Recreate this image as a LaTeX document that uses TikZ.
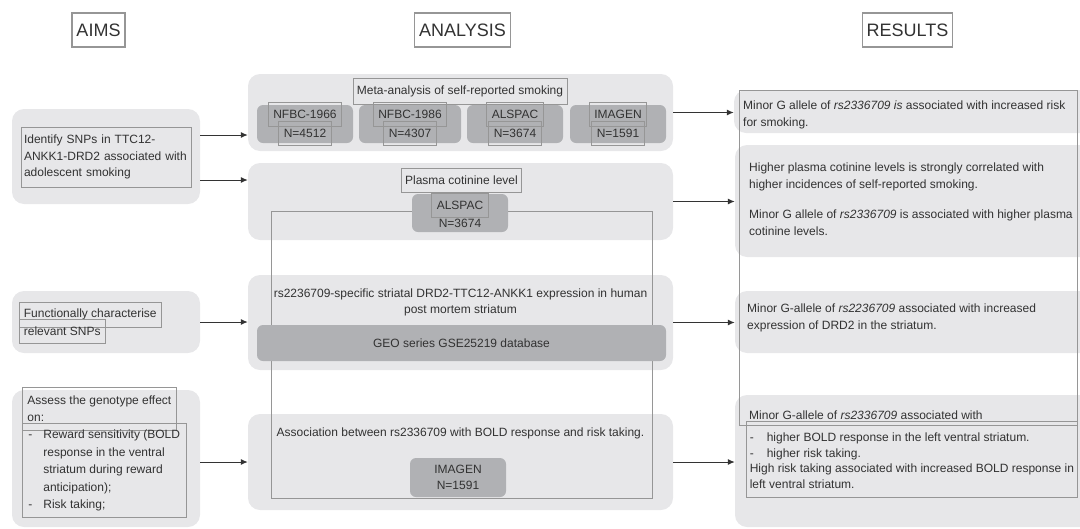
\documentclass[tikz,border=0pt]{standalone}
\usepackage{fontspec}
\setmainfont{Liberation Sans}
\usetikzlibrary{arrows.meta}
\definecolor{grisclair}{RGB}{231,231,233}
\definecolor{grisfonce}{RGB}{176,177,180}
\definecolor{griscadre}{RGB}{150,150,150}
\definecolor{encre}{RGB}{50,50,50}

\begin{document}
\begin{tikzpicture}[x=1pt, y=-1pt, font=\fontsize{12}{16.5}\selectfont, text=encre]
        % Styles
        \tikzstyle{boite}=[rectangle, rounded corners=12pt, fill=grisclair, inner sep=0pt]
        \tikzstyle{sousboite}=[rectangle, rounded corners=6pt, fill=grisfonce, inner sep=0pt]
        \tikzstyle{cadre}=[draw=griscadre, line width=0.8pt]
        \tikzstyle{entete}=[cadre, line width=1.2pt, font=\fontsize{18}{20}\selectfont, inner xsep=4.5pt, minimum height=34pt]
        \tikzstyle{etiquette}=[cadre, inner xsep=5pt, inner ysep=0pt, minimum height=24pt]
        \tikzstyle{bloc}=[inner sep=0pt, align=left, anchor=north west]
        \tikzstyle{fleche}=[-{Latex[length=7pt,width=6pt]}, line width=1pt, draw=black!80]

        \useasboundingbox (0,0) rectangle (1080,528);
        \clip (0,0) rectangle (1080,528);

        % En-tetes
        \node[entete] (aims) at (98.5,30) {AIMS};
        \node[entete] (analysis) at (462.5,30) {ANALYSIS};
        \node[entete] (results) at (907.5,30) {RESULTS};

        % Fonds
        \node[boite, minimum width=188pt, minimum height=95pt] (objA) at (106,156.5) {};
        \node[boite, minimum width=188pt, minimum height=62pt] (objB) at (106,322) {};
        \node[boite, minimum width=188pt, minimum height=137pt] (objC) at (106,458.5) {};
        \node[boite, minimum width=425pt, minimum height=77pt] (meta) at (460.5,112.5) {};
        \node[boite, minimum width=425pt, minimum height=77pt] (cotinine) at (460.5,201.5) {};
        \node[boite, minimum width=425pt, minimum height=95pt] (expression) at (460.5,322.5) {};
        \node[boite, minimum width=425pt, minimum height=96pt] (bold) at (460.5,462) {};
        \node[boite, minimum width=361pt, minimum height=43pt] (resA) at (914.5,111.5) {};
        \node[boite, minimum width=360pt, minimum height=112pt] (resB) at (915,201) {};
        \node[boite, minimum width=360pt, minimum height=62pt] (resC) at (915,322) {};
        \node[boite, minimum width=360pt, minimum height=132pt] (resD) at (915,461) {};

        % Grands cadres
        \draw[cadre] (271,211) rectangle (652,498);
        \draw[cadre] (739,90) rectangle (1077,425);

        % Objectifs
        \node[cadre, align=left, inner xsep=3pt, minimum height=60pt, text width=164pt] (objAtxt) at (106,157)
            {Identify SNPs in TTC12-\\ANKK1-DRD2 associated with\\adolescent smoking};
        \node[cadre, anchor=west, inner xsep=4.5pt, inner ysep=0pt, minimum height=25pt] (objBa) at (19,314.5) {Functionally characterise};
        \node[cadre, anchor=west, inner xsep=4.5pt, inner ysep=0pt, minimum height=24pt] (objBb) at (19,331) {relevant SNPs};
        \node[cadre, anchor=north west, align=left, inner xsep=3pt, minimum width=154pt, minimum height=43pt] (objCa) at (22,387)
            {Assess the genotype effect\\on:\hspace*{108pt}};
        \node[cadre, anchor=north west, inner xsep=6pt, minimum width=162pt, minimum height=94pt] (objCb) at (22,423)
            {\renewcommand\arraystretch{1.06}\begin{tabular}{@{}l@{\hspace{11pt}}l@{}}
             -& Reward sensitivity (BOLD\\ & response in the ventral\\ & striatum during reward\\ & anticipation);\\ -& Risk taking;\end{tabular}};

        % Meta-analyse
        \node[cadre, inner xsep=4pt, inner ysep=0pt, minimum height=26pt] (metatitre) at (460,91) {Meta-analysis of self-reported smoking};
        \foreach \x/\w/\nom/\n [count=\i] in {305/96/NFBC-1966/4512, 410/102/NFBC-1986/4307, 515/96/ALSPAC/3674, 618/96/IMAGEN/1591} {
            \node[sousboite, minimum width=\w pt, minimum height=38pt] (cohorte\i) at (\x,124) {};
            \node[etiquette] (cohorte\i nom) at (\x,114.5) {\nom};
            \node[etiquette] (cohorte\i n) at (\x,133) {N=\n};
        }

        % Cotinine
        \node[cadre, inner xsep=4pt, inner ysep=0pt, minimum height=24pt] (cotitre) at (461.5,180) {Plasma cotinine level};
        \node[sousboite, minimum width=96pt, minimum height=38pt] (cotsous) at (460,213) {};
        \node[etiquette] (cotnom) at (460,205) {ALSPAC};
        \node[inner sep=0pt] (cotn) at (460,223) {N=3674};

        % Expression
        \node[align=center, inner sep=0pt] (exprtxt) at (460.5,302.5)
            {rs2236709-specific striatal DRD2-TTC12-ANKK1 expression in human\\post mortem striatum};
        \node[sousboite, minimum width=409pt, minimum height=36pt] (geo) at (461.5,343) {GEO series GSE25219 database};

        % BOLD
        \node[inner sep=0pt] (boldtxt) at (460.5,433) {Association between rs2336709 with BOLD response and risk taking.};
        \node[sousboite, minimum width=96pt, minimum height=39pt, align=center] (boldsous) at (458,477.5) {IMAGEN\\N=1591};

        % Resultats
        \node[bloc] (resAtxt) at (743,101)
            {Minor G allele of \textit{rs2336709 is} associated with increased risk\\for smoking.};
        \node[bloc] (resBtxt) at (749,163)
            {Higher plasma cotinine levels is strongly correlated with\\higher incidences of self-reported smoking.\\[14pt]
             Minor G allele of \textit{rs2336709} is associated with higher plasma\\cotinine levels.};
        \node[bloc] (resCtxt) at (747,304)
            {Minor G-allele of \textit{rs2236709} associated with increased\\expression of DRD2 in the striatum.};
        \node[bloc] (resDtxt) at (749,411) {Minor G-allele of \textit{rs2336709} associated with};
        \node[cadre, anchor=north west, align=left, inner xsep=3pt, minimum width=331pt, minimum height=76pt] (resDcadre) at (746,421)
            {\begin{tabular}{@{}l@{\hspace{13pt}}l@{}}-& higher BOLD response in the left ventral striatum.\\-& higher risk taking.\end{tabular}\\
             High risk taking associated with increased BOLD response in\\left ventral striatum.};

        % Fleches
        \draw[fleche] ([yshift=21.5pt]objA.east) coordinate (dA) -- (dA -| meta.west);
        \draw[fleche] ([yshift=-23.5pt]objA.east) coordinate (dB) -- (dB -| cotinine.west);
        \draw[fleche] (objB.east) -- (objB.east -| expression.west);
        \draw[fleche] (bold.west -| objC.east) -- (bold.west);
        \draw[fleche] (meta.east) -- (meta.east -| resA.west);
        \draw[fleche] (cotinine.east) -- (cotinine.east -| resB.west);
        \draw[fleche] (expression.east) -- (expression.east -| resC.west);
        \draw[fleche] (bold.east) -- (bold.east -| resD.west);
    \end{tikzpicture}
\end{document}
